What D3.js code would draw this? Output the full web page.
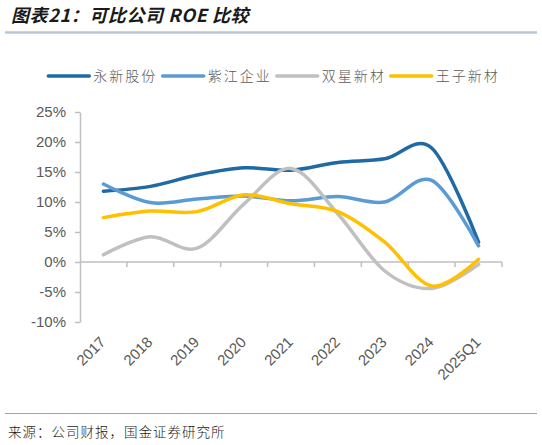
<!DOCTYPE html>
<html><head><meta charset="utf-8">
<script src="https://cdn.jsdelivr.net/npm/d3@7/dist/d3.min.js"></script>
<style>
html,body{margin:0;padding:0;background:#fff;}
svg{display:block;}
</style></head>
<body>
<svg id="chart" width="542" height="445"></svg>
<script>
const categories = ["2017","2018","2019","2020","2021","2022","2023","2024","2025Q1"];
const seriesNames = ["永新股份","紫江企业","双星新材","王子新材"];
const yongxin = [11.8, 12.6, 14.5, 15.7, 15.3, 16.6, 17.2, 19.0, 3.3];
const zijiang = [13.0, 9.9, 10.5, 11.0, 10.2, 10.9, 10.0, 13.6, 2.7];
const shuangxing = [1.2, 4.2, 2.3, 9.7, 15.6, 8.0, -1.5, -4.4, -0.4];
const wangzi = [7.4, 8.5, 8.4, 11.2, 9.7, 8.4, 3.3, -4.0, 0.45];
const yTicks = [-10, -5, 0, 5, 10, 15, 20, 25];
const colors = ["#1f6aa5", "#5b9bd5", "#c0c0c0", "#ffc000"];
const seriesValues = [yongxin, zijiang, shuangxing, wangzi];

const svg = d3.select("#chart");
const latin = "'Liberation Sans', Arial, sans-serif";
const cjk = "'Noto Sans CJK SC', sans-serif";

// Title
svg.append("text").attr("x", 11).attr("y", 22)
  .attr("font-family", cjk).attr("font-size", 18).attr("font-weight", 700)
  .attr("font-style", "italic").attr("letter-spacing", 0.6).attr("fill", "#1a1a1a")
  .text("图表21：可比公司 ROE 比较");
svg.append("line").attr("x1", 5).attr("x2", 537).attr("y1", 32.5).attr("y2", 32.5)
  .attr("stroke", "#b9c8d4").attr("stroke-width", 2.5);

// Scales
const x = d3.scaleBand().domain(categories).range([80, 502]).padding(0);
const y = d3.scaleLinear().domain([-10, 25]).range([322, 112]);
const cx = c => x(c) + x.bandwidth() / 2;

// Y axis
const yAxis = svg.append("g").attr("transform", "translate(80,0)")
  .call(d3.axisLeft(y).tickValues(yTicks).tickSize(5).tickSizeOuter(0).tickPadding(9)
    .tickFormat(d => d + "%"));
yAxis.select(".domain").attr("stroke", "#bfbfbf").attr("stroke-width", 1.5);
yAxis.selectAll(".tick line").attr("stroke", "#bfbfbf").attr("stroke-width", 1.5);
yAxis.selectAll(".tick text").attr("font-family", latin).attr("font-size", 15).attr("fill", "#595959");

// X axis at zero
const xAxisG = svg.append("g");
xAxisG.append("line").attr("x1", x.range()[0]).attr("x2", x.range()[1])
  .attr("y1", y(0)).attr("y2", y(0)).attr("stroke", "#bfbfbf").attr("stroke-width", 1.5);
xAxisG.selectAll("line.tk").data(categories).join("line").attr("class", "tk")
  .attr("x1", d => x(d) + x.bandwidth()).attr("x2", d => x(d) + x.bandwidth())
  .attr("y1", y(0)).attr("y2", y(0) + 5).attr("stroke", "#bfbfbf").attr("stroke-width", 1.5);
xAxisG.selectAll("text").data(categories).join("text")
  .attr("transform", d => `translate(${cx(d) + 3},${343}) rotate(-45)`)
  .attr("text-anchor", "end")
  .attr("font-family", latin).attr("font-size", 15).attr("fill", "#595959")
  .text(d => d);

// Lines
const line = d3.line().x((d, i) => cx(categories[i])).y(d => y(d))
  .curve(d3.curveCardinal.tension(0));
svg.append("g").selectAll("path").data(seriesValues).join("path")
  .attr("d", d => line(d)).attr("fill", "none")
  .attr("stroke", (d, i) => colors[i]).attr("stroke-width", 3.5)
  .attr("stroke-linecap", "round").attr("stroke-linejoin", "round");

// Legend
const legendX = [48.3, 162.7, 276.7, 390.7];
const lg = svg.append("g").selectAll("g").data(seriesNames).join("g")
  .attr("transform", (d, i) => `translate(${legendX[i]},0)`);
lg.append("line").attr("x1", 0).attr("x2", 41).attr("y1", 76).attr("y2", 76)
  .attr("stroke", (d, i) => colors[i]).attr("stroke-width", 3.5).attr("stroke-linecap", "round");
lg.append("text").attr("x", 45).attr("y", 81)
  .attr("font-family", cjk).attr("font-size", 14).attr("font-weight", 300)
  .attr("letter-spacing", 2).attr("fill", "#595959").text(d => d);

// Footer
svg.append("line").attr("x1", 5).attr("x2", 537).attr("y1", 413.5).attr("y2", 413.5)
  .attr("stroke", "#8ea8bd").attr("stroke-width", 1);
svg.append("text").attr("x", 8).attr("y", 437)
  .attr("font-family", cjk).attr("font-size", 13.5).attr("font-weight", 300)
  .attr("letter-spacing", 1).attr("fill", "#1a1a1a")
  .text("来源：公司财报，国金证券研究所");
</script>
</body></html>
